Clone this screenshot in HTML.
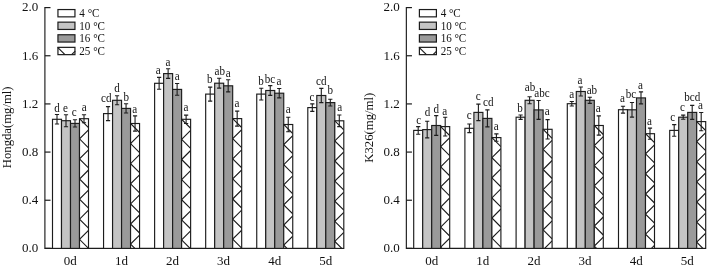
<!DOCTYPE html>
<html><head><meta charset="utf-8"><title>chart</title>
<style>
html,body{margin:0;padding:0;background:#fff;}
svg{display:block;will-change:transform;font-family:"Liberation Serif",serif;fill:#111;}
</style></head><body>
<svg width="708" height="268" viewBox="0 0 708 268">
<rect width="708" height="268" fill="#fff"/>
<path d="M44.90 7.00V248.40H343.80" fill="none" stroke="#1c1c1c" stroke-width="1.15"/>
<path d="M44.90 248.40h5.6" stroke="#1c1c1c" stroke-width="1.2"/>
<text x="38.30" y="252.20" text-anchor="end" font-size="13">0.0</text>
<path d="M44.90 200.24h5.6" stroke="#1c1c1c" stroke-width="1.2"/>
<text x="38.30" y="204.04" text-anchor="end" font-size="13">0.4</text>
<path d="M44.90 152.08h5.6" stroke="#1c1c1c" stroke-width="1.2"/>
<text x="38.30" y="155.88" text-anchor="end" font-size="13">0.8</text>
<path d="M44.90 103.92h5.6" stroke="#1c1c1c" stroke-width="1.2"/>
<text x="38.30" y="107.72" text-anchor="end" font-size="13">1.2</text>
<path d="M44.90 55.76h5.6" stroke="#1c1c1c" stroke-width="1.2"/>
<text x="38.30" y="59.56" text-anchor="end" font-size="13">1.6</text>
<path d="M44.90 7.60h5.6" stroke="#1c1c1c" stroke-width="1.2"/>
<text x="38.30" y="11.40" text-anchor="end" font-size="13">2.0</text>
<text x="70.30" y="265.1" text-anchor="middle" font-size="13">0d</text>
<text x="121.40" y="265.1" text-anchor="middle" font-size="13">1d</text>
<text x="172.50" y="265.1" text-anchor="middle" font-size="13">2d</text>
<text x="223.60" y="265.1" text-anchor="middle" font-size="13">3d</text>
<text x="274.70" y="265.1" text-anchor="middle" font-size="13">4d</text>
<text x="325.80" y="265.1" text-anchor="middle" font-size="13">5d</text>
<text transform="translate(11.40 127.3) rotate(-90)" text-anchor="middle" font-size="12.7">Hongda(mg/ml)</text>
<rect x="57.95" y="9.55" width="17.0" height="7.3" fill="#ffffff" stroke="#1c1c1c" stroke-width="1.2"/>
<text transform="translate(79.20 17.10) scale(1 1.09)" font-size="11.1">4 <tspan dx="0.1">°</tspan><tspan dx="-0.2">C</tspan></text>
<rect x="57.95" y="22.15" width="17.0" height="7.3" fill="#c4c4c4" stroke="#1c1c1c" stroke-width="1.2"/>
<text transform="translate(79.20 29.70) scale(1 1.09)" font-size="11.1">10 <tspan dx="0.1">°</tspan><tspan dx="-0.2">C</tspan></text>
<rect x="57.95" y="34.75" width="17.0" height="7.3" fill="#9a9a9a" stroke="#1c1c1c" stroke-width="1.2"/>
<text transform="translate(79.20 42.30) scale(1 1.09)" font-size="11.1">16 <tspan dx="0.1">°</tspan><tspan dx="-0.2">C</tspan></text>
<rect x="57.95" y="47.35" width="17.0" height="7.3" fill="#ffffff" stroke="#1c1c1c" stroke-width="1.2"/>
<path d="M57.60 47.30l7.4 7.4M71.60 54.70l3.6 -3.6" stroke="#1c1c1c" stroke-width="1.15" fill="none"/>
<text transform="translate(79.20 54.90) scale(1 1.09)" font-size="11.1">25 <tspan dx="0.1">°</tspan><tspan dx="-0.2">C</tspan></text>
<rect x="52.50" y="119.30" width="9.0" height="129.10" fill="#ffffff" stroke="#1c1c1c" stroke-width="1.15"/>
<rect x="61.50" y="120.70" width="9.0" height="127.70" fill="#c4c4c4" stroke="#1c1c1c" stroke-width="1.15"/>
<rect x="70.50" y="123.40" width="9.0" height="125.00" fill="#9a9a9a" stroke="#1c1c1c" stroke-width="1.15"/>
<rect x="79.50" y="118.70" width="9.0" height="129.70" fill="#ffffff" stroke="#1c1c1c" stroke-width="1.15"/>
<clipPath id="c1"><rect x="79.50" y="118.70" width="9.0" height="129.70"/></clipPath>
<path d="M88.50 109.70L79.50 118.70L88.50 127.70M88.50 129.80L79.50 138.80L88.50 147.80M88.50 149.90L79.50 158.90L88.50 167.90M88.50 170.00L79.50 179.00L88.50 188.00M88.50 190.10L79.50 199.10L88.50 208.10M88.50 210.20L79.50 219.20L88.50 228.20M88.50 230.30L79.50 239.30L88.50 248.30" fill="none" stroke="#1c1c1c" stroke-width="1.15" clip-path="url(#c1)"/>
<path d="M57.00 114.55V124.05M54.90 114.55h4.2M54.90 124.05h4.2" fill="none" stroke="#1c1c1c" stroke-width="1.1"/>
<path d="M66.00 114.70V126.70M63.90 114.70h4.2M63.90 126.70h4.2" fill="none" stroke="#1c1c1c" stroke-width="1.1"/>
<path d="M75.00 119.80V127.00M72.90 119.80h4.2M72.90 127.00h4.2" fill="none" stroke="#1c1c1c" stroke-width="1.1"/>
<path d="M84.00 114.70V122.70M81.90 114.70h4.2M81.90 122.70h4.2" fill="none" stroke="#1c1c1c" stroke-width="1.1"/>
<text transform="translate(57.0 111.8) scale(1 1.06)" text-anchor="middle" font-size="11.1">d</text>
<text transform="translate(65.5 111.8) scale(1 1.06)" text-anchor="middle" font-size="11.1">e</text>
<text transform="translate(74.2 116.1) scale(1 1.06)" text-anchor="middle" font-size="11.1">c</text>
<text transform="translate(84.3 110.9) scale(1 1.06)" text-anchor="middle" font-size="11.1">a</text>
<rect x="103.56" y="113.60" width="9.0" height="134.80" fill="#ffffff" stroke="#1c1c1c" stroke-width="1.15"/>
<rect x="112.56" y="100.30" width="9.0" height="148.10" fill="#c4c4c4" stroke="#1c1c1c" stroke-width="1.15"/>
<rect x="121.56" y="108.40" width="9.0" height="140.00" fill="#9a9a9a" stroke="#1c1c1c" stroke-width="1.15"/>
<rect x="130.56" y="123.50" width="9.0" height="124.90" fill="#ffffff" stroke="#1c1c1c" stroke-width="1.15"/>
<clipPath id="c2"><rect x="130.56" y="123.50" width="9.0" height="124.90"/></clipPath>
<path d="M139.56 114.50L130.56 123.50L139.56 132.50M139.56 134.60L130.56 143.60L139.56 152.60M139.56 154.70L130.56 163.70L139.56 172.70M139.56 174.80L130.56 183.80L139.56 192.80M139.56 194.90L130.56 203.90L139.56 212.90M139.56 215.00L130.56 224.00L139.56 233.00M139.56 235.10L130.56 244.10L139.56 253.10" fill="none" stroke="#1c1c1c" stroke-width="1.15" clip-path="url(#c2)"/>
<path d="M108.06 106.60V120.60M105.96 106.60h4.2M105.96 120.60h4.2" fill="none" stroke="#1c1c1c" stroke-width="1.1"/>
<path d="M117.06 95.80V104.80M114.96 95.80h4.2M114.96 104.80h4.2" fill="none" stroke="#1c1c1c" stroke-width="1.1"/>
<path d="M126.06 103.80V113.00M123.96 103.80h4.2M123.96 113.00h4.2" fill="none" stroke="#1c1c1c" stroke-width="1.1"/>
<path d="M135.06 115.90V131.10M132.96 115.90h4.2M132.96 131.10h4.2" fill="none" stroke="#1c1c1c" stroke-width="1.1"/>
<text transform="translate(106.2 102.3) scale(1 1.06)" text-anchor="middle" font-size="11.1">cd</text>
<text transform="translate(117.0 92.1) scale(1 1.06)" text-anchor="middle" font-size="11.1">d</text>
<text transform="translate(126.3 100.8) scale(1 1.06)" text-anchor="middle" font-size="11.1">b</text>
<text transform="translate(134.8 112.5) scale(1 1.06)" text-anchor="middle" font-size="11.1">a</text>
<rect x="154.62" y="83.30" width="9.0" height="165.10" fill="#ffffff" stroke="#1c1c1c" stroke-width="1.15"/>
<rect x="163.62" y="73.60" width="9.0" height="174.80" fill="#c4c4c4" stroke="#1c1c1c" stroke-width="1.15"/>
<rect x="172.62" y="89.40" width="9.0" height="159.00" fill="#9a9a9a" stroke="#1c1c1c" stroke-width="1.15"/>
<rect x="181.62" y="119.30" width="9.0" height="129.10" fill="#ffffff" stroke="#1c1c1c" stroke-width="1.15"/>
<clipPath id="c3"><rect x="181.62" y="119.30" width="9.0" height="129.10"/></clipPath>
<path d="M190.62 110.30L181.62 119.30L190.62 128.30M190.62 130.40L181.62 139.40L190.62 148.40M190.62 150.50L181.62 159.50L190.62 168.50M190.62 170.60L181.62 179.60L190.62 188.60M190.62 190.70L181.62 199.70L190.62 208.70M190.62 210.80L181.62 219.80L190.62 228.80M190.62 230.90L181.62 239.90L190.62 248.90" fill="none" stroke="#1c1c1c" stroke-width="1.15" clip-path="url(#c3)"/>
<path d="M159.12 77.40V89.20M157.02 77.40h4.2M157.02 89.20h4.2" fill="none" stroke="#1c1c1c" stroke-width="1.1"/>
<path d="M168.12 68.80V78.40M166.02 68.80h4.2M166.02 78.40h4.2" fill="none" stroke="#1c1c1c" stroke-width="1.1"/>
<path d="M177.12 83.55V95.25M175.02 83.55h4.2M175.02 95.25h4.2" fill="none" stroke="#1c1c1c" stroke-width="1.1"/>
<path d="M186.12 115.10V123.50M184.02 115.10h4.2M184.02 123.50h4.2" fill="none" stroke="#1c1c1c" stroke-width="1.1"/>
<text transform="translate(158.3 73.8) scale(1 1.06)" text-anchor="middle" font-size="11.1">a</text>
<text transform="translate(167.9 65.8) scale(1 1.06)" text-anchor="middle" font-size="11.1">a</text>
<text transform="translate(177.1 79.9) scale(1 1.06)" text-anchor="middle" font-size="11.1">a</text>
<text transform="translate(186.0 111.3) scale(1 1.06)" text-anchor="middle" font-size="11.1">a</text>
<rect x="205.68" y="94.10" width="9.0" height="154.30" fill="#ffffff" stroke="#1c1c1c" stroke-width="1.15"/>
<rect x="214.68" y="83.20" width="9.0" height="165.20" fill="#c4c4c4" stroke="#1c1c1c" stroke-width="1.15"/>
<rect x="223.68" y="85.80" width="9.0" height="162.60" fill="#9a9a9a" stroke="#1c1c1c" stroke-width="1.15"/>
<rect x="232.68" y="118.60" width="9.0" height="129.80" fill="#ffffff" stroke="#1c1c1c" stroke-width="1.15"/>
<clipPath id="c4"><rect x="232.68" y="118.60" width="9.0" height="129.80"/></clipPath>
<path d="M241.68 109.60L232.68 118.60L241.68 127.60M241.68 129.70L232.68 138.70L241.68 147.70M241.68 149.80L232.68 158.80L241.68 167.80M241.68 169.90L232.68 178.90L241.68 187.90M241.68 190.00L232.68 199.00L241.68 208.00M241.68 210.10L232.68 219.10L241.68 228.10M241.68 230.20L232.68 239.20L241.68 248.20" fill="none" stroke="#1c1c1c" stroke-width="1.15" clip-path="url(#c4)"/>
<path d="M210.18 87.10V101.10M208.08 87.10h4.2M208.08 101.10h4.2" fill="none" stroke="#1c1c1c" stroke-width="1.1"/>
<path d="M219.18 78.30V88.10M217.08 78.30h4.2M217.08 88.10h4.2" fill="none" stroke="#1c1c1c" stroke-width="1.1"/>
<path d="M228.18 79.70V91.90M226.08 79.70h4.2M226.08 91.90h4.2" fill="none" stroke="#1c1c1c" stroke-width="1.1"/>
<path d="M237.18 111.10V126.10M235.08 111.10h4.2M235.08 126.10h4.2" fill="none" stroke="#1c1c1c" stroke-width="1.1"/>
<text transform="translate(209.8 83.3) scale(1 1.06)" text-anchor="middle" font-size="11.1">b</text>
<text transform="translate(219.8 75.0) scale(1 1.06)" text-anchor="middle" font-size="11.1">ab</text>
<text transform="translate(228.3 76.8) scale(1 1.06)" text-anchor="middle" font-size="11.1">a</text>
<text transform="translate(237.0 106.8) scale(1 1.06)" text-anchor="middle" font-size="11.1">a</text>
<rect x="256.74" y="94.10" width="9.0" height="154.30" fill="#ffffff" stroke="#1c1c1c" stroke-width="1.15"/>
<rect x="265.74" y="90.50" width="9.0" height="157.90" fill="#c4c4c4" stroke="#1c1c1c" stroke-width="1.15"/>
<rect x="274.74" y="93.20" width="9.0" height="155.20" fill="#9a9a9a" stroke="#1c1c1c" stroke-width="1.15"/>
<rect x="283.74" y="124.50" width="9.0" height="123.90" fill="#ffffff" stroke="#1c1c1c" stroke-width="1.15"/>
<clipPath id="c5"><rect x="283.74" y="124.50" width="9.0" height="123.90"/></clipPath>
<path d="M292.74 115.50L283.74 124.50L292.74 133.50M292.74 135.60L283.74 144.60L292.74 153.60M292.74 155.70L283.74 164.70L292.74 173.70M292.74 175.80L283.74 184.80L292.74 193.80M292.74 195.90L283.74 204.90L292.74 213.90M292.74 216.00L283.74 225.00L292.74 234.00M292.74 236.10L283.74 245.10L292.74 254.10" fill="none" stroke="#1c1c1c" stroke-width="1.15" clip-path="url(#c5)"/>
<path d="M261.24 88.20V100.00M259.14 88.20h4.2M259.14 100.00h4.2" fill="none" stroke="#1c1c1c" stroke-width="1.1"/>
<path d="M270.24 85.60V95.40M268.14 85.60h4.2M268.14 95.40h4.2" fill="none" stroke="#1c1c1c" stroke-width="1.1"/>
<path d="M279.24 88.55V97.85M277.14 88.55h4.2M277.14 97.85h4.2" fill="none" stroke="#1c1c1c" stroke-width="1.1"/>
<path d="M288.24 117.30V131.70M286.14 117.30h4.2M286.14 131.70h4.2" fill="none" stroke="#1c1c1c" stroke-width="1.1"/>
<text transform="translate(260.9 85.3) scale(1 1.06)" text-anchor="middle" font-size="11.1">b</text>
<text transform="translate(270.0 82.8) scale(1 1.06)" text-anchor="middle" font-size="11.1">bc</text>
<text transform="translate(279.0 85.0) scale(1 1.06)" text-anchor="middle" font-size="11.1">a</text>
<text transform="translate(288.3 113.3) scale(1 1.06)" text-anchor="middle" font-size="11.1">a</text>
<rect x="307.80" y="107.60" width="9.0" height="140.80" fill="#ffffff" stroke="#1c1c1c" stroke-width="1.15"/>
<rect x="316.80" y="95.50" width="9.0" height="152.90" fill="#c4c4c4" stroke="#1c1c1c" stroke-width="1.15"/>
<rect x="325.80" y="102.60" width="9.0" height="145.80" fill="#9a9a9a" stroke="#1c1c1c" stroke-width="1.15"/>
<rect x="334.80" y="120.80" width="9.0" height="127.60" fill="#ffffff" stroke="#1c1c1c" stroke-width="1.15"/>
<clipPath id="c6"><rect x="334.80" y="120.80" width="9.0" height="127.60"/></clipPath>
<path d="M343.80 111.80L334.80 120.80L343.80 129.80M343.80 131.90L334.80 140.90L343.80 149.90M343.80 152.00L334.80 161.00L343.80 170.00M343.80 172.10L334.80 181.10L343.80 190.10M343.80 192.20L334.80 201.20L343.80 210.20M343.80 212.30L334.80 221.30L343.80 230.30M343.80 232.40L334.80 241.40L343.80 250.40" fill="none" stroke="#1c1c1c" stroke-width="1.15" clip-path="url(#c6)"/>
<path d="M312.30 103.85V111.35M310.20 103.85h4.2M310.20 111.35h4.2" fill="none" stroke="#1c1c1c" stroke-width="1.1"/>
<path d="M321.30 88.40V102.60M319.20 88.40h4.2M319.20 102.60h4.2" fill="none" stroke="#1c1c1c" stroke-width="1.1"/>
<path d="M330.30 99.20V106.00M328.20 99.20h4.2M328.20 106.00h4.2" fill="none" stroke="#1c1c1c" stroke-width="1.1"/>
<path d="M339.30 114.95V126.65M337.20 114.95h4.2M337.20 126.65h4.2" fill="none" stroke="#1c1c1c" stroke-width="1.1"/>
<text transform="translate(312.0 100.8) scale(1 1.06)" text-anchor="middle" font-size="11.1">c</text>
<text transform="translate(321.2 84.8) scale(1 1.06)" text-anchor="middle" font-size="11.1">cd</text>
<text transform="translate(330.3 94.2) scale(1 1.06)" text-anchor="middle" font-size="11.1">b</text>
<text transform="translate(339.8 110.8) scale(1 1.06)" text-anchor="middle" font-size="11.1">a</text>
<path d="M406.35 7.00V248.40H705.80" fill="none" stroke="#1c1c1c" stroke-width="1.15"/>
<path d="M406.35 248.40h5.6" stroke="#1c1c1c" stroke-width="1.2"/>
<text x="399.75" y="252.20" text-anchor="end" font-size="13">0.0</text>
<path d="M406.35 200.24h5.6" stroke="#1c1c1c" stroke-width="1.2"/>
<text x="399.75" y="204.04" text-anchor="end" font-size="13">0.4</text>
<path d="M406.35 152.08h5.6" stroke="#1c1c1c" stroke-width="1.2"/>
<text x="399.75" y="155.88" text-anchor="end" font-size="13">0.8</text>
<path d="M406.35 103.92h5.6" stroke="#1c1c1c" stroke-width="1.2"/>
<text x="399.75" y="107.72" text-anchor="end" font-size="13">1.2</text>
<path d="M406.35 55.76h5.6" stroke="#1c1c1c" stroke-width="1.2"/>
<text x="399.75" y="59.56" text-anchor="end" font-size="13">1.6</text>
<path d="M406.35 7.60h5.6" stroke="#1c1c1c" stroke-width="1.2"/>
<text x="399.75" y="11.40" text-anchor="end" font-size="13">2.0</text>
<text x="431.75" y="265.1" text-anchor="middle" font-size="13">0d</text>
<text x="482.85" y="265.1" text-anchor="middle" font-size="13">1d</text>
<text x="533.95" y="265.1" text-anchor="middle" font-size="13">2d</text>
<text x="585.05" y="265.1" text-anchor="middle" font-size="13">3d</text>
<text x="636.15" y="265.1" text-anchor="middle" font-size="13">4d</text>
<text x="687.25" y="265.1" text-anchor="middle" font-size="13">5d</text>
<text transform="translate(372.85 127.75) rotate(-90)" text-anchor="middle" font-size="12.7">K326(mg/ml)</text>
<rect x="419.40" y="9.55" width="17.0" height="7.3" fill="#ffffff" stroke="#1c1c1c" stroke-width="1.2"/>
<text transform="translate(440.65 17.10) scale(1 1.09)" font-size="11.1">4 <tspan dx="0.1">°</tspan><tspan dx="-0.2">C</tspan></text>
<rect x="419.40" y="22.15" width="17.0" height="7.3" fill="#c4c4c4" stroke="#1c1c1c" stroke-width="1.2"/>
<text transform="translate(440.65 29.70) scale(1 1.09)" font-size="11.1">10 <tspan dx="0.1">°</tspan><tspan dx="-0.2">C</tspan></text>
<rect x="419.40" y="34.75" width="17.0" height="7.3" fill="#9a9a9a" stroke="#1c1c1c" stroke-width="1.2"/>
<text transform="translate(440.65 42.30) scale(1 1.09)" font-size="11.1">16 <tspan dx="0.1">°</tspan><tspan dx="-0.2">C</tspan></text>
<rect x="419.40" y="47.35" width="17.0" height="7.3" fill="#ffffff" stroke="#1c1c1c" stroke-width="1.2"/>
<path d="M419.05 47.30l7.4 7.4M433.05 54.70l3.6 -3.6" stroke="#1c1c1c" stroke-width="1.15" fill="none"/>
<text transform="translate(440.65 54.90) scale(1 1.09)" font-size="11.1">25 <tspan dx="0.1">°</tspan><tspan dx="-0.2">C</tspan></text>
<rect x="413.70" y="130.40" width="9.0" height="118.00" fill="#ffffff" stroke="#1c1c1c" stroke-width="1.15"/>
<rect x="422.70" y="129.60" width="9.0" height="118.80" fill="#c4c4c4" stroke="#1c1c1c" stroke-width="1.15"/>
<rect x="431.70" y="125.50" width="9.0" height="122.90" fill="#9a9a9a" stroke="#1c1c1c" stroke-width="1.15"/>
<rect x="440.70" y="126.60" width="9.0" height="121.80" fill="#ffffff" stroke="#1c1c1c" stroke-width="1.15"/>
<clipPath id="c7"><rect x="440.70" y="126.60" width="9.0" height="121.80"/></clipPath>
<path d="M449.70 117.60L440.70 126.60L449.70 135.60M449.70 137.70L440.70 146.70L449.70 155.70M449.70 157.80L440.70 166.80L449.70 175.80M449.70 177.90L440.70 186.90L449.70 195.90M449.70 198.00L440.70 207.00L449.70 216.00M449.70 218.10L440.70 227.10L449.70 236.10M449.70 238.20L440.70 247.20L449.70 256.20" fill="none" stroke="#1c1c1c" stroke-width="1.15" clip-path="url(#c7)"/>
<path d="M418.20 126.60V134.20M416.10 126.60h4.2M416.10 134.20h4.2" fill="none" stroke="#1c1c1c" stroke-width="1.1"/>
<path d="M427.20 121.30V137.90M425.10 121.30h4.2M425.10 137.90h4.2" fill="none" stroke="#1c1c1c" stroke-width="1.1"/>
<path d="M436.20 115.65V135.35M434.10 115.65h4.2M434.10 135.35h4.2" fill="none" stroke="#1c1c1c" stroke-width="1.1"/>
<path d="M445.20 117.20V136.00M443.10 117.20h4.2M443.10 136.00h4.2" fill="none" stroke="#1c1c1c" stroke-width="1.1"/>
<text transform="translate(418.6 123.8) scale(1 1.06)" text-anchor="middle" font-size="11.1">c</text>
<text transform="translate(427.4 116.3) scale(1 1.06)" text-anchor="middle" font-size="11.1">d</text>
<text transform="translate(436.3 113.0) scale(1 1.06)" text-anchor="middle" font-size="11.1">d</text>
<text transform="translate(444.8 114.7) scale(1 1.06)" text-anchor="middle" font-size="11.1">a</text>
<rect x="464.90" y="128.30" width="9.0" height="120.10" fill="#ffffff" stroke="#1c1c1c" stroke-width="1.15"/>
<rect x="473.90" y="112.40" width="9.0" height="136.00" fill="#c4c4c4" stroke="#1c1c1c" stroke-width="1.15"/>
<rect x="482.90" y="118.40" width="9.0" height="130.00" fill="#9a9a9a" stroke="#1c1c1c" stroke-width="1.15"/>
<rect x="491.90" y="137.60" width="9.0" height="110.80" fill="#ffffff" stroke="#1c1c1c" stroke-width="1.15"/>
<clipPath id="c8"><rect x="491.90" y="137.60" width="9.0" height="110.80"/></clipPath>
<path d="M500.90 128.60L491.90 137.60L500.90 146.60M500.90 148.70L491.90 157.70L500.90 166.70M500.90 168.80L491.90 177.80L500.90 186.80M500.90 188.90L491.90 197.90L500.90 206.90M500.90 209.00L491.90 218.00L500.90 227.00M500.90 229.10L491.90 238.10L500.90 247.10" fill="none" stroke="#1c1c1c" stroke-width="1.15" clip-path="url(#c8)"/>
<path d="M469.40 124.00V132.60M467.30 124.00h4.2M467.30 132.60h4.2" fill="none" stroke="#1c1c1c" stroke-width="1.1"/>
<path d="M478.40 104.15V120.65M476.30 104.15h4.2M476.30 120.65h4.2" fill="none" stroke="#1c1c1c" stroke-width="1.1"/>
<path d="M487.40 109.90V126.90M485.30 109.90h4.2M485.30 126.90h4.2" fill="none" stroke="#1c1c1c" stroke-width="1.1"/>
<path d="M496.40 133.90V141.30M494.30 133.90h4.2M494.30 141.30h4.2" fill="none" stroke="#1c1c1c" stroke-width="1.1"/>
<text transform="translate(469.3 119.3) scale(1 1.06)" text-anchor="middle" font-size="11.1">c</text>
<text transform="translate(478.2 100.3) scale(1 1.06)" text-anchor="middle" font-size="11.1">c</text>
<text transform="translate(488.2 106.1) scale(1 1.06)" text-anchor="middle" font-size="11.1">cd</text>
<text transform="translate(496.1 130.4) scale(1 1.06)" text-anchor="middle" font-size="11.1">a</text>
<rect x="516.10" y="117.20" width="9.0" height="131.20" fill="#ffffff" stroke="#1c1c1c" stroke-width="1.15"/>
<rect x="525.10" y="100.30" width="9.0" height="148.10" fill="#c4c4c4" stroke="#1c1c1c" stroke-width="1.15"/>
<rect x="534.10" y="109.90" width="9.0" height="138.50" fill="#9a9a9a" stroke="#1c1c1c" stroke-width="1.15"/>
<rect x="543.10" y="129.30" width="9.0" height="119.10" fill="#ffffff" stroke="#1c1c1c" stroke-width="1.15"/>
<clipPath id="c9"><rect x="543.10" y="129.30" width="9.0" height="119.10"/></clipPath>
<path d="M552.10 120.30L543.10 129.30L552.10 138.30M552.10 140.40L543.10 149.40L552.10 158.40M552.10 160.50L543.10 169.50L552.10 178.50M552.10 180.60L543.10 189.60L552.10 198.60M552.10 200.70L543.10 209.70L552.10 218.70M552.10 220.80L543.10 229.80L552.10 238.80M552.10 240.90L543.10 249.90L552.10 258.90" fill="none" stroke="#1c1c1c" stroke-width="1.15" clip-path="url(#c9)"/>
<path d="M520.60 115.00V119.40M518.50 115.00h4.2M518.50 119.40h4.2" fill="none" stroke="#1c1c1c" stroke-width="1.1"/>
<path d="M529.60 96.80V103.80M527.50 96.80h4.2M527.50 103.80h4.2" fill="none" stroke="#1c1c1c" stroke-width="1.1"/>
<path d="M538.60 100.45V119.35M536.50 100.45h4.2M536.50 119.35h4.2" fill="none" stroke="#1c1c1c" stroke-width="1.1"/>
<path d="M547.60 119.60V139.00M545.50 119.60h4.2M545.50 139.00h4.2" fill="none" stroke="#1c1c1c" stroke-width="1.1"/>
<text transform="translate(520.1 112.3) scale(1 1.06)" text-anchor="middle" font-size="11.1">b</text>
<text transform="translate(530.1 90.6) scale(1 1.06)" text-anchor="middle" font-size="11.1">ab</text>
<text transform="translate(542.0 96.5) scale(1 1.06)" text-anchor="middle" font-size="11.1">abc</text>
<text transform="translate(547.3 115.1) scale(1 1.06)" text-anchor="middle" font-size="11.1">a</text>
<rect x="567.30" y="103.70" width="9.0" height="144.70" fill="#ffffff" stroke="#1c1c1c" stroke-width="1.15"/>
<rect x="576.30" y="91.50" width="9.0" height="156.90" fill="#c4c4c4" stroke="#1c1c1c" stroke-width="1.15"/>
<rect x="585.30" y="100.30" width="9.0" height="148.10" fill="#9a9a9a" stroke="#1c1c1c" stroke-width="1.15"/>
<rect x="594.30" y="125.50" width="9.0" height="122.90" fill="#ffffff" stroke="#1c1c1c" stroke-width="1.15"/>
<clipPath id="c10"><rect x="594.30" y="125.50" width="9.0" height="122.90"/></clipPath>
<path d="M603.30 116.50L594.30 125.50L603.30 134.50M603.30 136.60L594.30 145.60L603.30 154.60M603.30 156.70L594.30 165.70L603.30 174.70M603.30 176.80L594.30 185.80L603.30 194.80M603.30 196.90L594.30 205.90L603.30 214.90M603.30 217.00L594.30 226.00L603.30 235.00M603.30 237.10L594.30 246.10L603.30 255.10" fill="none" stroke="#1c1c1c" stroke-width="1.15" clip-path="url(#c10)"/>
<path d="M571.80 101.45V105.95M569.70 101.45h4.2M569.70 105.95h4.2" fill="none" stroke="#1c1c1c" stroke-width="1.1"/>
<path d="M580.80 87.00V96.00M578.70 87.00h4.2M578.70 96.00h4.2" fill="none" stroke="#1c1c1c" stroke-width="1.1"/>
<path d="M589.80 97.20V103.40M587.70 97.20h4.2M587.70 103.40h4.2" fill="none" stroke="#1c1c1c" stroke-width="1.1"/>
<path d="M598.80 115.90V135.10M596.70 115.90h4.2M596.70 135.10h4.2" fill="none" stroke="#1c1c1c" stroke-width="1.1"/>
<text transform="translate(571.6 98.1) scale(1 1.06)" text-anchor="middle" font-size="11.1">a</text>
<text transform="translate(580.0 84.0) scale(1 1.06)" text-anchor="middle" font-size="11.1">a</text>
<text transform="translate(591.9 93.6) scale(1 1.06)" text-anchor="middle" font-size="11.1">ab</text>
<text transform="translate(598.2 112.3) scale(1 1.06)" text-anchor="middle" font-size="11.1">a</text>
<rect x="618.50" y="109.70" width="9.0" height="138.70" fill="#ffffff" stroke="#1c1c1c" stroke-width="1.15"/>
<rect x="627.50" y="109.80" width="9.0" height="138.60" fill="#c4c4c4" stroke="#1c1c1c" stroke-width="1.15"/>
<rect x="636.50" y="97.90" width="9.0" height="150.50" fill="#9a9a9a" stroke="#1c1c1c" stroke-width="1.15"/>
<rect x="645.50" y="133.70" width="9.0" height="114.70" fill="#ffffff" stroke="#1c1c1c" stroke-width="1.15"/>
<clipPath id="c11"><rect x="645.50" y="133.70" width="9.0" height="114.70"/></clipPath>
<path d="M654.50 124.70L645.50 133.70L654.50 142.70M654.50 144.80L645.50 153.80L654.50 162.80M654.50 164.90L645.50 173.90L654.50 182.90M654.50 185.00L645.50 194.00L654.50 203.00M654.50 205.10L645.50 214.10L654.50 223.10M654.50 225.20L645.50 234.20L654.50 243.20M654.50 245.30L645.50 254.30L654.50 263.30" fill="none" stroke="#1c1c1c" stroke-width="1.15" clip-path="url(#c11)"/>
<path d="M623.00 106.30V113.10M620.90 106.30h4.2M620.90 113.10h4.2" fill="none" stroke="#1c1c1c" stroke-width="1.1"/>
<path d="M632.00 102.50V117.10M629.90 102.50h4.2M629.90 117.10h4.2" fill="none" stroke="#1c1c1c" stroke-width="1.1"/>
<path d="M641.00 91.90V103.90M638.90 91.90h4.2M638.90 103.90h4.2" fill="none" stroke="#1c1c1c" stroke-width="1.1"/>
<path d="M650.00 128.10V139.30M647.90 128.10h4.2M647.90 139.30h4.2" fill="none" stroke="#1c1c1c" stroke-width="1.1"/>
<text transform="translate(622.5 101.7) scale(1 1.06)" text-anchor="middle" font-size="11.1">a</text>
<text transform="translate(631.0 98.2) scale(1 1.06)" text-anchor="middle" font-size="11.1">bc</text>
<text transform="translate(640.5 88.5) scale(1 1.06)" text-anchor="middle" font-size="11.1">a</text>
<text transform="translate(649.5 124.5) scale(1 1.06)" text-anchor="middle" font-size="11.1">a</text>
<rect x="669.70" y="130.40" width="9.0" height="118.00" fill="#ffffff" stroke="#1c1c1c" stroke-width="1.15"/>
<rect x="678.70" y="117.20" width="9.0" height="131.20" fill="#c4c4c4" stroke="#1c1c1c" stroke-width="1.15"/>
<rect x="687.70" y="112.40" width="9.0" height="136.00" fill="#9a9a9a" stroke="#1c1c1c" stroke-width="1.15"/>
<rect x="696.70" y="121.60" width="9.0" height="126.80" fill="#ffffff" stroke="#1c1c1c" stroke-width="1.15"/>
<clipPath id="c12"><rect x="696.70" y="121.60" width="9.0" height="126.80"/></clipPath>
<path d="M705.70 112.60L696.70 121.60L705.70 130.60M705.70 132.70L696.70 141.70L705.70 150.70M705.70 152.80L696.70 161.80L705.70 170.80M705.70 172.90L696.70 181.90L705.70 190.90M705.70 193.00L696.70 202.00L705.70 211.00M705.70 213.10L696.70 222.10L705.70 231.10M705.70 233.20L696.70 242.20L705.70 251.20" fill="none" stroke="#1c1c1c" stroke-width="1.15" clip-path="url(#c12)"/>
<path d="M674.20 124.60V136.20M672.10 124.60h4.2M672.10 136.20h4.2" fill="none" stroke="#1c1c1c" stroke-width="1.1"/>
<path d="M683.20 115.10V119.30M681.10 115.10h4.2M681.10 119.30h4.2" fill="none" stroke="#1c1c1c" stroke-width="1.1"/>
<path d="M692.20 105.40V119.40M690.10 105.40h4.2M690.10 119.40h4.2" fill="none" stroke="#1c1c1c" stroke-width="1.1"/>
<path d="M701.20 112.50V130.70M699.10 112.50h4.2M699.10 130.70h4.2" fill="none" stroke="#1c1c1c" stroke-width="1.1"/>
<text transform="translate(672.8 121.3) scale(1 1.06)" text-anchor="middle" font-size="11.1">c</text>
<text transform="translate(682.4 111.4) scale(1 1.06)" text-anchor="middle" font-size="11.1">c</text>
<text transform="translate(692.2 101.3) scale(1 1.06)" text-anchor="middle" font-size="11.1">bcd</text>
<text transform="translate(700.4 108.8) scale(1 1.06)" text-anchor="middle" font-size="11.1">a</text>
</svg>
</body></html>
